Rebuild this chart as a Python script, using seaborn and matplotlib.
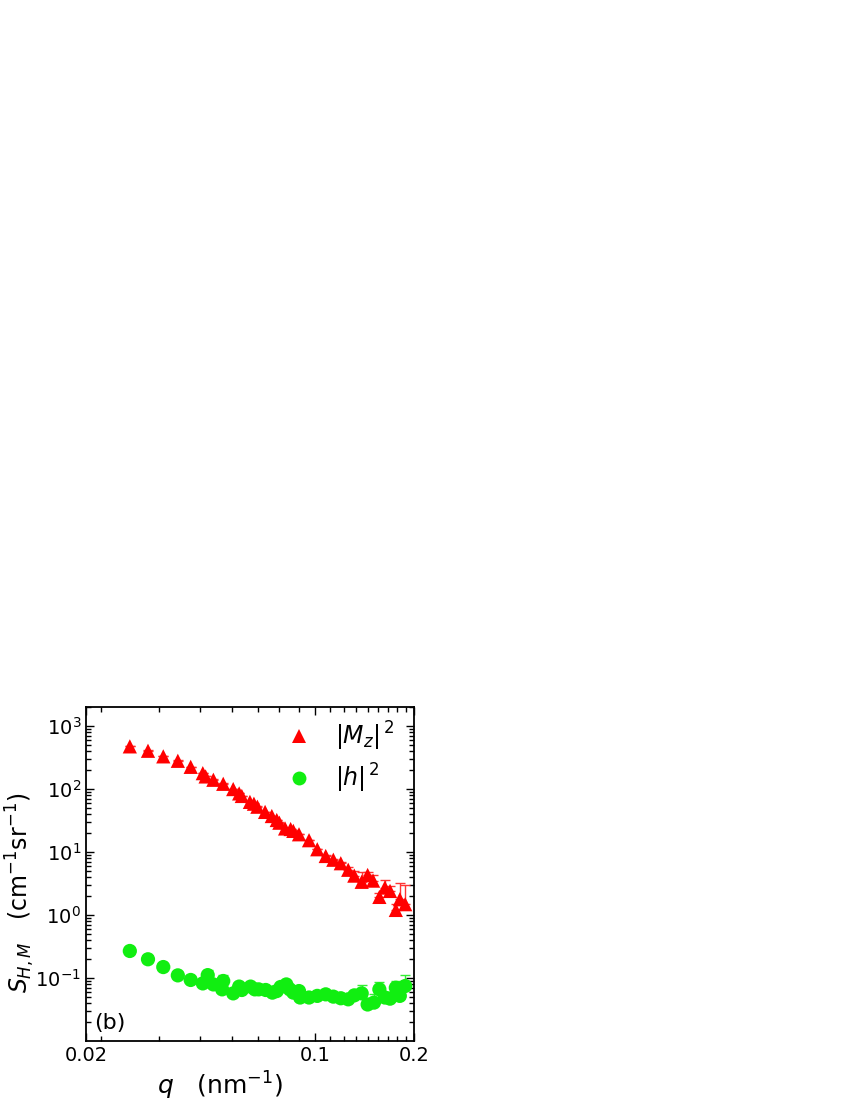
import numpy as np
import pandas as pd
import matplotlib
matplotlib.use("Agg")
import matplotlib.pyplot as plt
import matplotlib.ticker as mticker
import seaborn as sns

# --- data ---
q_mz = [0.0272, 0.0309, 0.0344, 0.0381, 0.0417, 0.0454, 0.0463, 0.0489, 0.0524,
        0.0562, 0.0586, 0.0597, 0.0632, 0.0650, 0.0666, 0.0703, 0.0737, 0.0763,
        0.0777, 0.0809, 0.0841, 0.0857, 0.0892, 0.0957, 0.1014, 0.1076, 0.1135,
        0.1196, 0.1260, 0.1315, 0.1385, 0.1444, 0.1500, 0.1568, 0.1630, 0.1690,
        0.1760, 0.1810, 0.1880]
s_mz = [471, 401, 327, 278, 223, 177, 157, 139, 120,
        99, 84.5, 77, 62, 58, 52, 43, 37, 32,
        29, 23.5, 23, 21.5, 19, 15.3, 11, 8.6, 7.5,
        6.6, 5.2, 4.2, 3.35, 4.3, 3.5, 1.93, 2.72, 2.4,
        1.2, 1.77, 1.48]
err_mz = [5, 4, 3, 3, 2, 2, 2, 2, 1.5,
          1.2, 1, 1, 0.8, 0.8, 0.7, 0.6, 0.5, 0.5,
          0.4, 0.4, 0.4, 0.4, 0.3, 0.3, 0.2, 0.2, 0.25,
          0.4, 0.6, 0.8, 1.5, 0.5, 0.8, 0.3, 0.9, 0.5,
          0.3, 1.4, 1.45]

q_h = [0.0272, 0.0309, 0.0344, 0.0381, 0.0417, 0.0454, 0.0470, 0.0489, 0.0524,
       0.0520, 0.0562, 0.0586, 0.0597, 0.0635, 0.0654, 0.0672, 0.0706, 0.0740,
       0.0763, 0.0784, 0.0816, 0.0836, 0.0857, 0.0892, 0.0899, 0.0957, 0.1014,
       0.1076, 0.1135, 0.1196, 0.1260, 0.1315, 0.1385, 0.1444, 0.1510, 0.1568,
       0.1630, 0.1690, 0.1760, 0.1810, 0.1880]
s_h = [0.268, 0.198, 0.149, 0.110, 0.093, 0.082, 0.111, 0.079, 0.0896,
       0.066, 0.057, 0.073, 0.0645, 0.073, 0.066, 0.066, 0.0645, 0.0586,
       0.062, 0.072, 0.079, 0.066, 0.0586, 0.062, 0.049, 0.049, 0.052,
       0.055, 0.0506, 0.0477, 0.0459, 0.053, 0.057, 0.038, 0.0407, 0.066,
       0.049, 0.047, 0.070, 0.052, 0.0746]
err_h = [0.004, 0.003, 0.003, 0.003, 0.003, 0.005, 0.022, 0.005, 0.021,
         0.005, 0.004, 0.010, 0.004, 0.005, 0.004, 0.004, 0.004, 0.004,
         0.004, 0.005, 0.009, 0.005, 0.004, 0.008, 0.004, 0.004, 0.004,
         0.004, 0.004, 0.006, 0.006, 0.006, 0.021, 0.008, 0.016, 0.021,
         0.010, 0.012, 0.019, 0.010, 0.038]

RED = '#ff0000'
GREEN = '#11ee11'

df = pd.concat([
    pd.DataFrame({'q': q_mz, 'S': s_mz, 'err': err_mz, 'term': r'$|M_z|^{\,2}$'}),
    pd.DataFrame({'q': q_h, 'S': s_h, 'err': err_h, 'term': r'$|h|^{\,2}$'}),
], ignore_index=True)


def make_plot():
    sns.set_style("ticks")
    plt.rcParams['font.family'] = ['DejaVu Sans']
    plt.rcParams['mathtext.fontset'] = 'dejavusans'
    plt.rcParams['text.color'] = 'black'
    plt.rcParams['axes.labelcolor'] = 'black'

    fig = plt.figure(figsize=(8.5, 11), dpi=100)
    ax = fig.add_axes([0.1012, 0.0536, 0.3859, 0.3039])

    # error bars behind the markers (only the upper half shows past the marker)
    ax.errorbar(q_mz, s_mz, yerr=[np.zeros(len(err_mz)), err_mz], fmt='none',
                ecolor='#ff3333', elinewidth=1.0, capsize=3.5, capthick=1.0, zorder=1)
    ax.errorbar(q_h, s_h, yerr=[np.zeros(len(err_h)), err_h], fmt='none',
                ecolor='#33ee33', elinewidth=1.0, capsize=3.5, capthick=1.0, zorder=1)

    sns.scatterplot(data=df, x='q', y='S', hue='term', style='term',
                    palette=[RED, GREEN], markers=['^', 'o'], s=105,
                    linewidth=0, ax=ax, zorder=3)

    ax.set_xscale('log')
    ax.set_yscale('log')
    ax.set_xlim(0.02, 0.2)
    ax.set_ylim(0.01, 2000)

    # x ticks
    ax.xaxis.set_major_locator(mticker.FixedLocator([0.02, 0.1, 0.2]))
    ax.xaxis.set_major_formatter(mticker.FixedFormatter(['0.02', '0.1', '0.2']))
    ax.xaxis.set_minor_locator(mticker.FixedLocator(np.arange(2, 18) * 0.1 / 9))
    ax.xaxis.set_minor_formatter(mticker.NullFormatter())

    # y ticks
    ax.yaxis.set_major_locator(mticker.FixedLocator([0.1, 1, 10, 100, 1000]))
    ax.yaxis.set_major_formatter(mticker.LogFormatterSciNotation())
    ax.yaxis.set_minor_locator(mticker.LogLocator(base=10, subs=np.arange(2, 10), numticks=20))
    ax.yaxis.set_minor_formatter(mticker.NullFormatter())

    ax.tick_params(which='both', direction='in', top=True, right=True,
                   width=1.0, colors='black', labelsize=14)
    ax.tick_params(which='major', length=6)
    ax.tick_params(which='minor', length=3.5)
    for sp in ax.spines.values():
        sp.set_visible(True)
        sp.set_linewidth(1.3)
        sp.set_color('black')

    ax.set_xlabel(r'$q$   (nm$^{-1}$)', fontsize=18)
    ax.set_ylabel(r'$S_{H,M}$   (cm$^{-1}$sr$^{-1}$)', fontsize=17)
    ax.xaxis.set_label_coords(0.41, -0.085)
    ax.yaxis.set_label_coords(-0.148, 0.443)

    ax.text(0.025, 0.055, '(b)', transform=ax.transAxes, fontsize=16,
            ha='left', va='center')

    leg = ax.legend(loc='upper right', frameon=False, fontsize=17,
                    handletextpad=0.5, labelspacing=0.35,
                    borderaxespad=0.3, bbox_to_anchor=(0.99, 1.01))
    for h in leg.legend_handles:
        h.set_markersize(10)
        h.set_markeredgewidth(0)

    fig.savefig('out.png', dpi=100)


if __name__ == "__main__":
    make_plot()
